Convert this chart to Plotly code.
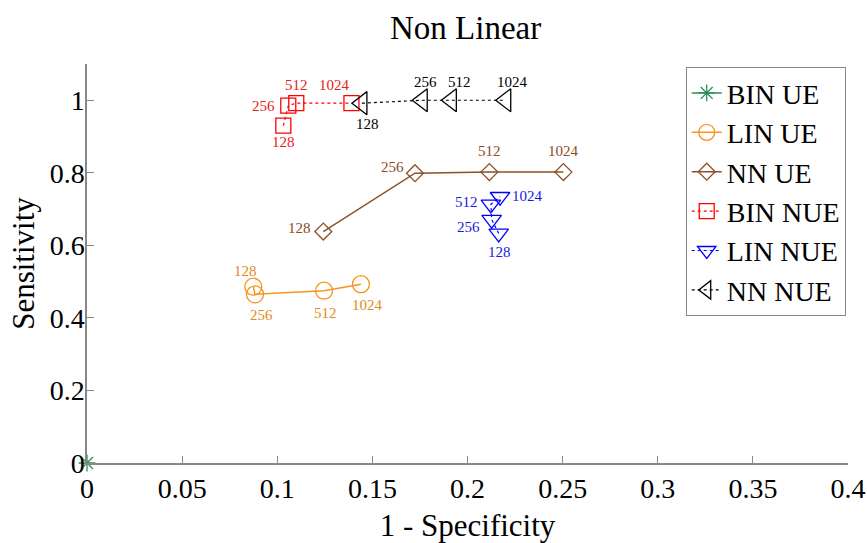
import plotly.graph_objects as go

# Window sizes used as point labels
window_sizes = ["128", "256", "512", "1024"]

# ROC operating points: false positive rate (1 - specificity) and sensitivity
bin_ue_fpr = [0.0]
bin_ue_tpr = [0.0]

lin_ue_fpr = [0.0874, 0.0883, 0.1246, 0.1440]
lin_ue_tpr = [0.486, 0.465, 0.475, 0.493]

nn_ue_fpr = [0.1242, 0.1724, 0.2115, 0.2504]
nn_ue_tpr = [0.638, 0.799, 0.802, 0.802]

bin_nue_fpr = [0.1032, 0.1058, 0.1100, 0.1390]
bin_nue_tpr = [0.930, 0.985, 0.992, 0.992]

lin_nue_fpr = [0.2164, 0.2127, 0.2123, 0.2171]
lin_nue_tpr = [0.633, 0.671, 0.713, 0.734]

nn_nue_fpr = [0.1445, 0.1762, 0.1915, 0.2201]
nn_nue_tpr = [0.992, 1.0, 1.0, 1.0]

x_ticks = [0, 0.05, 0.1, 0.15, 0.2, 0.25, 0.3, 0.35, 0.4]
x_tick_text = ["0", "0.05", "0.1", "0.15", "0.2", "0.25", "0.3", "0.35", "0.4"]
y_ticks = [0, 0.2, 0.4, 0.6, 0.8, 1.0]
y_tick_text = ["0", "0.2", "0.4", "0.6", "0.8", "1"]

FONT = "Liberation Serif, Times New Roman, serif"

series = [
    dict(name="BIN UE", x=bin_ue_fpr, y=bin_ue_tpr, color="#2e8b57",
         symbol="asterisk-open", size=14, dash="solid", labels=False),
    dict(name="LIN UE", x=lin_ue_fpr, y=lin_ue_tpr, color="#f7941d",
         symbol="circle-open", size=17, dash="solid", labels=True,
         label_color="#e38a22",
         offsets=[(-8, 16), (7, -21), (1, -22), (7, -21)]),
    dict(name="NN UE", x=nn_ue_fpr, y=nn_ue_tpr, color="#8c5028",
         symbol="diamond-open", size=13, dash="solid", labels=True,
         label_color="#8c4a2a",
         offsets=[(-24, 4), (-22, 6), (0, 21), (0, 21)]),
    dict(name="BIN NUE", x=bin_nue_fpr, y=bin_nue_tpr, color="#ff0000",
         symbol="square-open", size=15, dash="dot", labels=True,
         label_color="#e82020",
         offsets=[(0, -16), (-25, 0), (0, 18), (-17, 18)]),
    dict(name="LIN NUE", x=lin_nue_fpr, y=lin_nue_tpr, color="#0000ff",
         symbol="triangle-down-open", size=17, dash="dot", labels=True,
         label_color="#1a1ae0",
         offsets=[(1, -19), (-23, -7), (-24, 2), (27, 1)]),
    dict(name="NN NUE", x=nn_nue_fpr, y=nn_nue_tpr, color="#000000",
         symbol="triangle-left-open", size=20, dash="dot", labels=True,
         label_color="#000000",
         offsets=[(6, -21), (3, 18), (8, 18), (7, 18)]),
]

fig = go.Figure()
annotations = []

for s in series:
    fig.add_trace(go.Scatter(
        x=s["x"], y=s["y"], name=s["name"],
        mode="lines+markers",
        line=dict(color=s["color"], width=1.5 if s["dash"] == "solid" else 1.2,
                  dash=s["dash"]),
        marker=dict(symbol=s["symbol"], size=s["size"], color=s["color"],
                    line=dict(color=s["color"], width=1.3)),
        cliponaxis=False,
    ))
    if s["labels"]:
        for xv, yv, lab, (dx, dy) in zip(s["x"], s["y"], window_sizes, s["offsets"]):
            annotations.append(dict(
                x=xv, y=yv, xref="x", yref="y", text=lab, showarrow=False,
                xshift=dx, yshift=dy,
                font=dict(family=FONT, size=15, color=s["label_color"]),
            ))

fig.update_layout(
    width=867, height=543,
    margin=dict(l=87, r=19, t=64, b=80),
    paper_bgcolor="white", plot_bgcolor="white",
    font=dict(family=FONT, color="black"),
    title=dict(text="Non Linear", x=0.537, xanchor="center", y=0.95,
               yanchor="middle", font=dict(family=FONT, size=33, color="black")),
    showlegend=True,
    legend=dict(
        x=0.997, y=0.992, xanchor="right", yanchor="top",
        bgcolor="white", bordercolor="#888888", borderwidth=1,
        font=dict(family=FONT, size=28, color="black"),
        itemwidth=30, tracegroupgap=0,
    ),
    annotations=annotations,
)

fig.update_xaxes(
    range=[0, 0.4], tickmode="array", tickvals=x_ticks, ticktext=x_tick_text,
    automargin=False,
    showgrid=False, zeroline=False, showline=True, linecolor="#888888",
    linewidth=1.5, ticks="inside", ticklen=7, tickcolor="#888888",
    tickfont=dict(family=FONT, size=28, color="black"),
    title=dict(text="1 - Specificity", font=dict(family=FONT, size=31, color="black"),
               standoff=12),
)
fig.update_yaxes(
    range=[0, 1.1], tickmode="array", tickvals=y_ticks, ticktext=y_tick_text,
    automargin=False, ticklabelstandoff=-5,
    showgrid=False, zeroline=False, showline=True, linecolor="#888888",
    linewidth=1.5, ticks="inside", ticklen=7, tickcolor="#888888",
    tickfont=dict(family=FONT, size=28, color="black"),
    title=dict(text="Sensitivity", font=dict(family=FONT, size=31, color="black"),
               standoff=6),
)

fig.write_html("out.html")
